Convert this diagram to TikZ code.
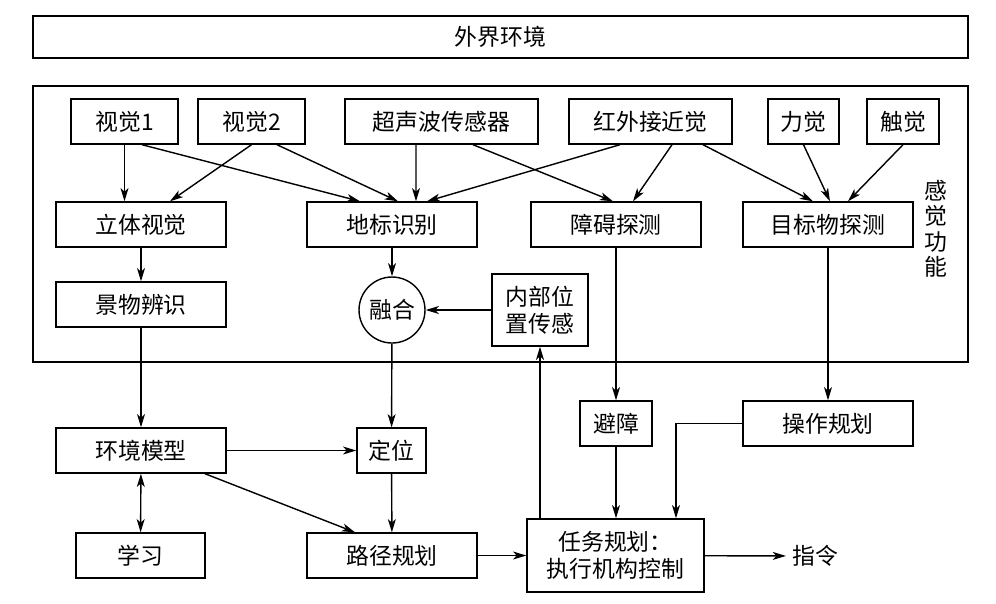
\documentclass[tikz,border=0pt]{standalone}
\usepackage{fontspec}
\usetikzlibrary{arrows.meta}
\newfontfamily\cjk{Noto Sans CJK SC}
\tikzset{
	box/.style={draw,line width=0.8pt,minimum height=0.9cm,inner sep=1pt,font=\cjk\fontsize{13}{15.5}\selectfont,align=center},
	arr/.style={->,line width=0.8pt},
	>={Stealth[length=7.5pt,width=4.5pt,inset=2pt]},
}
\begin{document}
\begin{tikzpicture}[x=0.02cm,y=-0.02cm]
		\useasboundingbox (0,0) rectangle (996,603);
		
		\node[box,minimum width=18.7cm,minimum height=0.84cm] (world) at (500.5,37) {外界环境};
		\node[draw,line width=0.8pt,minimum width=18.7cm,minimum height=5.52cm] (frame) at (500.5,224) {};
		\node[font=\cjk\fontsize{13}{14.5}\selectfont,align=center] (senselab) at (936,229) {感\\觉\\功\\能};
		
		% sensors
		\node[box,minimum width=2.14cm] (v1) at (124.5,121.5) {视觉1};
		\node[box,minimum width=2.14cm] (v2) at (251.5,121.5) {视觉2};
		\node[box,minimum width=3.86cm] (ultra) at (441.5,121.5) {超声波传感器};
		\node[box,minimum width=3.26cm] (ir) at (650.5,121.5) {红外接近觉};
		\node[box,minimum width=1.42cm] (force) at (803.5,121.5) {力觉};
		\node[box,minimum width=1.44cm] (touch) at (903,121.5) {触觉};
		
		% sensing functions
		\node[box,minimum width=3.4cm] (stereo) at (141,224.5) {立体视觉};
		\node[box,minimum width=3.4cm] (landmark) at (392,224.5) {地标识别};
		\node[box,minimum width=3.4cm] (obst) at (616,224.5) {障碍探测};
		\node[box,minimum width=3.4cm] (target) at (828,224.5) {目标物探测};
		\node[box,minimum width=3.4cm] (scene) at (141,304.5) {景物辨识};
		\node[box,circle,minimum size=1.32cm] (fuse) at (392,310) {融合};
		\node[box,minimum width=1.92cm,minimum height=1.44cm] (inner) at (540,310) {内部位\\置传感};
		
		% planning
		\node[box,minimum width=3.4cm] (envmodel) at (141,450.5) {环境模型};
		\node[box,minimum width=1.38cm] (locate) at (391.5,450.5) {定位};
		\node[box,minimum width=1.44cm] (avoid) at (616,423.5) {避障};
		\node[box,minimum width=3.4cm] (manip) at (828,423.5) {操作规划};
		\node[box,minimum width=2.58cm] (learn) at (140.5,555.5) {学习};
		\node[box,minimum width=3.4cm] (path) at (392,555.5) {路径规划};
		\node[box,minimum width=3.54cm,minimum height=1.46cm] (task) at (615.5,555.5) {任务规划：\\执行机构控制};
		\node[font=\cjk\fontsize{13}{15.5}\selectfont] (cmd) at (815,556) {指令};
		
		\draw[arr] (v1.south) -- (v1.south |- stereo.north);
		\draw[arr] ([xshift=0.35cm]v1.south) -- ([xshift=-0.64cm]landmark.north);
		\draw[arr] (v2.south) -- ([xshift=0.58cm]stereo.north);
		\draw[arr] ([xshift=0.51cm]v2.south) -- ([xshift=0.12cm]landmark.north);
		\draw[arr] ([xshift=-0.51cm]ultra.south) -- ([xshift=0.48cm]landmark.north);
		\draw[arr] ([xshift=-0.61cm]ir.south) -- ([xshift=0.7cm]landmark.north);
		\draw[arr] ([xshift=0.63cm]ultra.south) -- ([xshift=-0.06cm]obst.north);
		\draw[arr] ([xshift=0.43cm]ir.south) -- ([xshift=0.34cm]obst.north);
		\draw[arr] ([xshift=1.05cm]ir.south) -- ([xshift=-0.3cm]target.north);
		\draw[arr] (force.south) -- ([xshift=0.04cm]target.north);
		\draw[arr] (touch.south) -- ([xshift=0.4cm]target.north);
		
		\draw[arr] (stereo) -- (scene);
		\draw[arr] (landmark) -- (fuse);
		\draw[arr] (inner) -- (fuse);
		\draw[arr] (scene) -- (envmodel);
		\draw[arr] (fuse) -- (locate);
		\draw[arr] (obst) -- (avoid);
		\draw[arr] (target) -- (manip);
		
		\draw[arr] (envmodel) -- (locate);
		\draw[arr] ([xshift=1.28cm]envmodel.south) -- ([xshift=-0.74cm]path.north);
		\draw[arr,<->] (envmodel) -- (learn);
		\draw[arr] (locate) -- (path);
		\draw[arr] (path) -- (task);
		\draw[arr] (avoid) -- (avoid |- task.north);
		\draw[arr] (manip.west) -| ([xshift=1.21cm]task.north);
		\draw[arr] (inner.south |- task.north) -- (inner.south);
		\draw[arr] (task) -- (cmd);
\end{tikzpicture}
\end{document}
